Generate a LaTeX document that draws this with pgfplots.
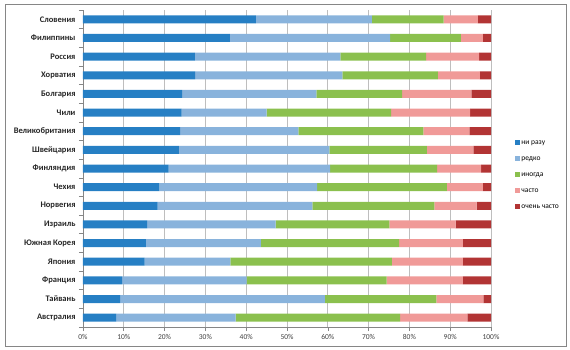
\documentclass[border=0pt]{standalone}
\usepackage{pgfplots}
\pgfplotsset{compat=1.18}
\usepackage{pgfplotstable}
\usepackage{fontspec}
\setmainfont{Carlito}
\definecolor{cA}{RGB}{38,127,196}
\definecolor{cB}{RGB}{137,179,220}
\definecolor{cC}{RGB}{139,192,78}
\definecolor{cD}{RGB}{240,154,152}
\definecolor{cE}{RGB}{178,52,52}
\definecolor{gridc}{RGB}{190,190,190}
\definecolor{axc}{RGB}{134,134,134}
\pgfplotstableread{
idx a b c d e
0 42.4 28.4 17.6 8.4 3.2
1 36.0 39.3 17.3 5.4 2.0
2 27.4 35.7 21.0 13.0 2.9
3 27.5 36.1 23.4 10.3 2.7
4 24.3 32.9 21.0 17.0 4.8
5 24.2 20.8 30.5 19.4 5.1
6 23.8 29.0 30.6 11.3 5.3
7 23.5 36.9 23.9 11.4 4.3
8 21.0 39.6 26.2 10.8 2.4
9 18.7 38.7 31.8 8.8 2.0
10 18.3 37.9 29.9 10.4 3.5
11 15.7 31.5 27.9 16.2 8.7
12 15.4 28.2 33.9 15.6 6.9
13 15.1 21.0 39.6 17.4 6.9
14 9.6 30.5 34.3 18.7 6.9
15 9.1 50.2 27.3 11.5 1.9
16 8.1 29.3 40.3 16.5 5.8
}\datatable
\begin{document}
\begin{tikzpicture}
\useasboundingbox (-83bp,-23bp) rectangle (487bp,327bp);
\draw[axc, line width=0.8bp] (-78bp,-19bp) rectangle (483bp,323bp);
\begin{axis}[
  at={(0,0)}, anchor=south west,
  scale only axis,
  width=408bp, height=317bp,
  xbar stacked,
  bar width=8bp,
  xmin=0, xmax=100,
  ymin=-0.5, ymax=16.5,
  y dir=reverse,
  axis x line*=bottom,
  axis y line*=left,
  axis line style={axc, line width=0.6bp},
  xtick={0,10,...,100},
  xticklabels={0\%,10\%,20\%,30\%,40\%,50\%,60\%,70\%,80\%,90\%,100\%},
  ytick={0,...,16},
  yticklabels={Словения,Филиппины,Россия,Хорватия,Болгария,Чили,Великобритания,Швейцария,Финляндия,Чехия,Норвегия,Израиль,Южная Корея,Япония,Франция,Тайвань,Австралия},
  minor ytick={-0.5,0.5,...,16.5},
  major y tick style={draw=none},
  minor y tick style={axc, line width=0.6bp},
  major x tick style={axc, line width=0.6bp},
  tick align=outside,
  major tick length=4bp,
  minor tick length=4bp,
  xmajorgrids,
  grid style={gridc, line width=0.8bp},
  yticklabel style={font=\fontsize{8.5bp}{10bp}\selectfont\bfseries, text=black!85},
  xticklabel style={font=\fontsize{7.5bp}{9bp}\selectfont, text=black!75},
  legend style={at={(axis description cs:1.052,0.48)}, anchor=west, draw=none, fill=none,
     font=\fontsize{7.5bp}{9bp}\selectfont,
     nodes={inner sep=1bp, text height=5.5bp, text depth=1.5bp},
     row sep=7bp,
     /tikz/every even column/.append style={column sep=0bp}},
  legend cell align=left,
  legend image code/.code={\fill[#1,draw=none] (0bp,-2.5bp) rectangle (5bp,2.5bp);},
]
\addplot[fill=cA, draw=none] table[x=a, y=idx] {\datatable};
\addplot[fill=cB, draw=none] table[x=b, y=idx] {\datatable};
\addplot[fill=cC, draw=none] table[x=c, y=idx] {\datatable};
\addplot[fill=cD, draw=none] table[x=d, y=idx] {\datatable};
\addplot[fill=cE, draw=none] table[x=e, y=idx] {\datatable};
\legend{ни разу, редко, иногда, часто, очень часто}
\end{axis}
\end{tikzpicture}
\end{document}
